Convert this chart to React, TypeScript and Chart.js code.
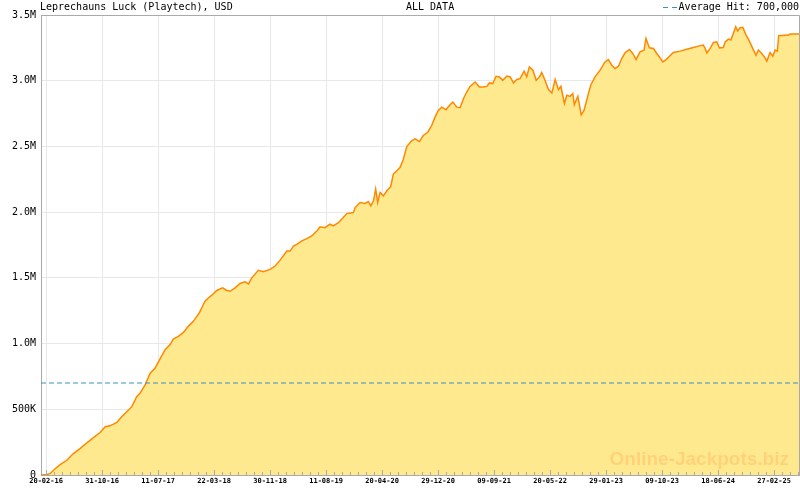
import React, { useEffect, useRef } from "react";
import { Chart, registerables } from "chart.js";

Chart.register(...registerables);

// ---- Data ----
const chartTitle = "Leprechauns Luck (Playtech), USD";
const rangeLabel = "ALL DATA";
const averageHit = 700000;
const averageLabel = "Average Hit: 700,000";
const watermarkText = "Online-Jackpots.biz";

// days since 20-02-16
const dayOffsets = [
  -23, 3, 18, 41, 64, 94, 124, 154, 185, 215, 245, 268, 290, 321, 343, 366, 389, 411, 426, 449,
  472, 494, 517, 540, 562, 577, 600, 623, 645, 668, 695, 706, 721, 736, 752, 774, 801, 820, 835, 857,
  880, 903, 918, 933, 963, 986, 1016, 1039, 1061, 1092, 1107, 1122, 1137, 1160, 1182, 1205, 1228, 1243, 1265, 1288,
  1303, 1326, 1348, 1364, 1394, 1402, 1424, 1447, 1462, 1473, 1485, 1495, 1504, 1515, 1530, 1548, 1563, 1575, 1591, 1606,
  1621, 1636, 1659, 1674, 1693, 1711, 1731, 1749, 1764, 1779, 1795, 1814, 1829, 1845, 1863, 1878, 1893, 1908, 1923, 1946,
  1965, 1983, 1999, 2011, 2026, 2041, 2056, 2071, 2090, 2105, 2120, 2135, 2150, 2168, 2180, 2192, 2208, 2223, 2238, 2248,
  2263, 2278, 2294, 2309, 2324, 2335, 2351, 2362, 2377, 2389, 2396, 2412, 2427, 2440, 2455, 2471, 2490, 2513, 2535, 2550,
  2566, 2581, 2596, 2611, 2626, 2646, 2661, 2676, 2694, 2712, 2721, 2736, 2755, 2770, 2782, 2797, 2812, 2830, 2845, 2876,
  2906, 2936, 2963, 2981, 2989, 2997, 3012, 3027, 3042, 3054, 3072, 3080, 3095, 3106, 3117, 3128, 3137, 3148, 3160, 3175,
  3190, 3205, 3220, 3231, 3246, 3261, 3269, 3284, 3296, 3307, 3317, 3323, 3367, 3375, 3415,
];

// jackpot amount, thousands of USD
const jackpotK = [
  0, 4, 10, 48, 79, 112, 163, 201, 245, 285, 323, 367, 374, 400, 443, 481, 520, 596, 621, 685,
  774, 812, 884, 953, 991, 1034, 1055, 1085, 1131, 1169, 1233, 1271, 1322, 1347, 1368, 1404, 1424, 1404, 1398, 1424,
  1457, 1470, 1454, 1500, 1557, 1546, 1564, 1590, 1633, 1704, 1704, 1742, 1755, 1781, 1798, 1819, 1857, 1888, 1882, 1908,
  1895, 1920, 1959, 1989, 1997, 2035, 2073, 2066, 2081, 2048, 2086, 2176, 2073, 2150, 2124, 2168, 2193, 2290, 2315, 2341,
  2405, 2499, 2545, 2558, 2537, 2583, 2608, 2659, 2723, 2774, 2799, 2779, 2812, 2837, 2799, 2795, 2863, 2914, 2957, 2990,
  2952, 2952, 2957, 2983, 2978, 3034, 3029, 3003, 3036, 3029, 2983, 3009, 3016, 3072, 3029, 3105, 3080, 3003, 3029, 3062,
  3003, 2935, 2906, 3009, 2932, 2957, 2825, 2889, 2881, 2902, 2818, 2881, 2741, 2774, 2871, 2970, 3029, 3080, 3143, 3161,
  3118, 3093, 3110, 3169, 3212, 3238, 3207, 3161, 3220, 3232, 3322, 3250, 3245, 3207, 3181, 3143, 3161, 3190, 3215, 3225,
  3240, 3253, 3265, 3271, 3246, 3212, 3246, 3291, 3296, 3250, 3253, 3296, 3317, 3309, 3360, 3411, 3378, 3403, 3406, 3347,
  3301, 3246, 3194, 3233, 3207, 3174, 3149, 3215, 3187, 3233, 3225, 3342, 3347, 3355, 3355,
];

const xTickLabels = [
  "20-02-16", "31-10-16", "11-07-17", "22-03-18", "30-11-18", "11-08-19", "20-04-20",
  "29-12-20", "09-09-21", "20-05-22", "29-01-23", "09-10-23", "18-06-24", "27-02-25",
];
const xTickStepDays = 254;
const xMinorPerMajor = 7;
const xMinDay = -23;
const xMaxDay = 3415;

const yTickValues = [0, 500000, 1000000, 1500000, 2000000, 2500000, 3000000, 3500000];
const yTickLabels = ["0", "500K", "1.0M", "1.5M", "2.0M", "2.5M", "3.0M", "3.5M"];

const MONO = "'DejaVu Sans Mono', monospace";

const decorPlugin = {
  id: "decor",
  afterDatasetsDraw(chart: any) {
    const { ctx, chartArea } = chart;
    const xs = chart.scales.x;
    ctx.save();
    // watermark
    ctx.font = "bold 19px 'Liberation Sans', Arial, sans-serif";
    ctx.fillStyle = "#ffd27a";
    ctx.textAlign = "right";
    ctx.textBaseline = "alphabetic";
    ctx.fillText(watermarkText, 789, 465);

    // minor / major ticks along bottom (inside)
    ctx.strokeStyle = "#aaaaaa";
    ctx.lineWidth = 1;
    const step = xTickStepDays / xMinorPerMajor;
    for (let k = 0; k * step <= xMaxDay; k++) {
      const px = Math.round(xs.getPixelForValue(k * step)) + 0.5;
      const len = k % xMinorPerMajor === 0 ? 5 : 3;
      ctx.beginPath();
      ctx.moveTo(px, chartArea.bottom);
      ctx.lineTo(px, chartArea.bottom - len);
      ctx.stroke();
    }
    // top & right border
    ctx.beginPath();
    ctx.moveTo(chartArea.left, chartArea.top + 0.5);
    ctx.lineTo(chartArea.right + 0.5, chartArea.top + 0.5);
    ctx.lineTo(chartArea.right + 0.5, chartArea.bottom);
    ctx.stroke();

    // header texts
    ctx.font = "10px " + MONO;
    ctx.fillStyle = "#000";
    ctx.textAlign = "left";
    ctx.fillText(chartTitle, 40, 10);
    ctx.fillText(rangeLabel, 406, 10);
    ctx.textAlign = "right";
    ctx.fillText(averageLabel, 799, 10);
    ctx.strokeStyle = "#3d8fc0";
    ctx.beginPath();
    ctx.moveTo(663, 7.5);
    ctx.lineTo(668, 7.5);
    ctx.moveTo(672, 7.5);
    ctx.lineTo(677, 7.5);
    ctx.stroke();
    ctx.restore();
  },
};

export default function App() {
  const canvasRef = useRef<HTMLCanvasElement>(null);

  useEffect(() => {
    document.body.style.margin = "0";
    const canvas = canvasRef.current;
    if (!canvas) return;
    const points = dayOffsets.map((d, i) => ({ x: d, y: jackpotK[i] * 1000 }));
    const chart = new Chart(canvas, {
      type: "line",
      data: {
        datasets: [
          {
            data: [
              { x: xMinDay, y: averageHit },
              { x: xMaxDay, y: averageHit },
            ],
            borderColor: "#3d8fc0",
            borderWidth: 1,
            borderDash: [5, 3],
            pointRadius: 0,
            fill: false,
          },
          {
            data: points,
            borderColor: "#ff8800",
            backgroundColor: "#ffe98f",
            borderWidth: 1.5,
            pointRadius: 0,
            tension: 0,
            fill: "origin",
          },
        ],
      },
      options: {
        animation: false,
        responsive: false,
        maintainAspectRatio: false,
        layout: { padding: { top: 15, right: 1, left: 0, bottom: 0 } },
        plugins: { legend: { display: false }, tooltip: { enabled: false }, title: { display: false } },
        scales: {
          x: {
            type: "linear",
            min: xMinDay,
            max: xMaxDay,
            afterBuildTicks: (s: any) => {
              s.ticks = xTickLabels.map((_, i) => ({ value: i * xTickStepDays }));
            },
            afterFit: (s: any) => {
              s.height = 15;
            },
            ticks: {
              callback: (_v: any, i: number) => xTickLabels[i],
              font: { family: MONO, size: 7, weight: "bold" },
              color: "#000",
              maxRotation: 0,
              autoSkip: false,
              padding: 2,
            },
            grid: { color: "#e8e8e8", drawTicks: false, lineWidth: 1 },
            border: { color: "#aaaaaa", width: 1 },
          },
          y: {
            type: "linear",
            min: 0,
            max: 3500000,
            afterBuildTicks: (s: any) => {
              s.ticks = yTickValues.map((v) => ({ value: v }));
            },
            afterFit: (s: any) => {
              s.width = 41;
            },
            ticks: {
              callback: (_v: any, i: number) => yTickLabels[i],
              font: { family: MONO, size: 10 },
              color: "#000",
              padding: 5,
            },
            grid: { color: "#e8e8e8", drawTicks: false, lineWidth: 1 },
            border: { color: "#aaaaaa", width: 1 },
          },
        },
      },
      plugins: [decorPlugin],
    });
    return () => chart.destroy();
  }, []);

  return (
    <div style={{ position: "absolute", left: 0, top: 0, width: 800, height: 490 }}>
      <canvas ref={canvasRef} width={800} height={490} style={{ width: 800, height: 490 }} />
    </div>
  );
}
